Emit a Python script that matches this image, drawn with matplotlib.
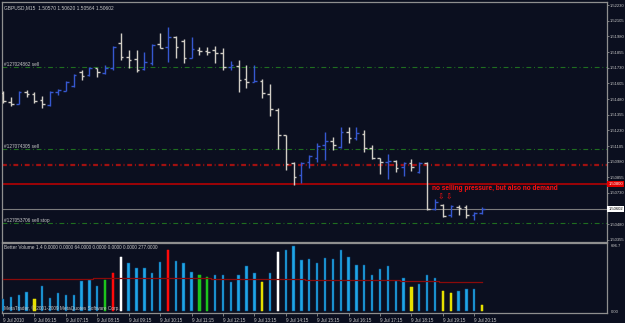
import matplotlib
matplotlib.use('Agg')
import matplotlib.pyplot as plt

plt.rcParams['font.family'] = ['Liberation Sans', 'DejaVu Sans']
plt.rcParams['lines.scale_dashes'] = False

# ---------------- data ----------------
chart_title = "GBPUSD,M15  1.50570 1.50620 1.50564 1.50602"

opens = [1.51528, 1.51456, 1.51440, 1.51536, 1.51520, 1.51472, 1.51432, 1.51536, 1.51544, 1.51584,
         1.51695, 1.51671, 1.51727, 1.51687, 1.51727, 1.51927, 1.51815, 1.51799, 1.51719, 1.51767,
         1.51919, 1.51895, 1.51975, 1.51943, 1.51807, 1.51871, 1.51863, 1.51871, 1.51847, 1.51735,
         1.51743, 1.51640, 1.51616, 1.51624, 1.51520, 1.51392, 1.51193, 1.50969, 1.50873, 1.50977,
         1.51009, 1.51113, 1.51145, 1.51097, 1.51217, 1.51169, 1.51201, 1.51089, 1.51009, 1.50977,
         1.50985, 1.50937, 1.50969, 1.50897, 1.50969, 1.50602, 1.50634, 1.50554, 1.50618, 1.50618,
         1.50554, 1.50570]
highs = [1.51544, 1.51496, 1.51544, 1.51552, 1.51536, 1.51504, 1.51544, 1.51560, 1.51624, 1.51679,
         1.51711, 1.51735, 1.51727, 1.51751, 1.51903, 1.52007, 1.51871, 1.51871, 1.51855, 1.51919,
         1.52007, 1.52054, 1.51983, 1.51959, 1.51975, 1.51895, 1.51895, 1.51903, 1.51887, 1.51783,
         1.51791, 1.51751, 1.51751, 1.51640, 1.51600, 1.51408, 1.51193, 1.50977, 1.50977, 1.51033,
         1.51129, 1.51217, 1.51177, 1.51256, 1.51256, 1.51256, 1.51233, 1.51113, 1.51009, 1.51041,
         1.50993, 1.50977, 1.51001, 1.50977, 1.50977, 1.50682, 1.50642, 1.50634, 1.50634, 1.50634,
         1.50578, 1.50620]
lows = [1.51448, 1.51424, 1.51440, 1.51496, 1.51448, 1.51408, 1.51424, 1.51512, 1.51544, 1.51576,
        1.51632, 1.51663, 1.51655, 1.51679, 1.51711, 1.51791, 1.51727, 1.51695, 1.51711, 1.51751,
        1.51887, 1.51775, 1.51807, 1.51767, 1.51807, 1.51831, 1.51831, 1.51767, 1.51711, 1.51711,
        1.51536, 1.51568, 1.51616, 1.51488, 1.51344, 1.51081, 1.50913, 1.50794, 1.50810, 1.50929,
        1.50977, 1.50993, 1.51073, 1.51089, 1.51129, 1.51153, 1.51057, 1.51001, 1.50881, 1.50841,
        1.50897, 1.50865, 1.50905, 1.50889, 1.50598, 1.50598, 1.50538, 1.50538, 1.50554, 1.50530,
        1.50514, 1.50564]
closes = [1.51464, 1.51440, 1.51536, 1.51520, 1.51464, 1.51440, 1.51536, 1.51552, 1.51616, 1.51671,
          1.51663, 1.51727, 1.51695, 1.51727, 1.51895, 1.51815, 1.51791, 1.51711, 1.51775, 1.51911,
          1.51887, 1.51975, 1.51895, 1.51807, 1.51879, 1.51863, 1.51855, 1.51847, 1.51735, 1.51751,
          1.51632, 1.51616, 1.51624, 1.51528, 1.51400, 1.51193, 1.50961, 1.50857, 1.50969, 1.51025,
          1.51105, 1.51145, 1.51113, 1.51217, 1.51169, 1.51209, 1.51089, 1.51009, 1.50977, 1.50985,
          1.50929, 1.50969, 1.50937, 1.50969, 1.50602, 1.50658, 1.50546, 1.50626, 1.50610, 1.50554,
          1.50570, 1.50602]

volumes = [127, 151, 169, 204, 127, 267, 141, 187, 176, 176,
           320, 334, 267, 334, 408, 581, 510, 457, 461, 408,
           521, 655, 528, 514, 415, 387, 362, 380, 387, 310,
           380, 475, 405, 310, 408, 626, 655, 690, 546, 556,
           510, 563, 556, 651, 581, 486, 493, 380, 443, 475,
           320, 352, 257, 285, 380, 352, 214, 187, 214, 232,
           232, 64]
volume_kind = ['n', 'n', 'n', 'n', 'y', 'n', 'n', 'n', 'n', 'n',
               'n', 'n', 'n', 'g', 'r', 'w', 'n', 'n', 'n', 'n',
               'n', 'r', 'n', 'n', 'n', 'g', 'g', 'n', 'n', 'n',
               'n', 'n', 'n', 'y', 'n', 'w', 'n', 'n', 'n', 'n',
               'n', 'n', 'n', 'n', 'n', 'n', 'n', 'n', 'n', 'n',
               'n', 'n', 'y', 'n', 'n', 'n', 'y', 'y', 'n', 'n',
               'n', 'y']
volume_avg = [340] * 12 + [352] * 15 + [345] * 12 + [335] * 12 + [320] * 5 + [306] * 6

time_labels = ["9 Jul 2010", "9 Jul 06:15", "9 Jul 07:15", "9 Jul 08:15", "9 Jul 09:15",
               "9 Jul 10:15", "9 Jul 11:15", "9 Jul 12:15", "9 Jul 13:15", "9 Jul 14:15",
               "9 Jul 15:15", "9 Jul 16:15", "9 Jul 17:15", "9 Jul 18:15", "9 Jul 19:15",
               "9 Jul 20:15"]
price_ticks = [1.52230, 1.52105, 1.51980, 1.51855, 1.51730, 1.51605, 1.51480, 1.51355,
               1.51230, 1.51105, 1.50980, 1.50855, 1.50730, 1.50480, 1.50355]

order_levels = [1.51735, 1.51081, 1.50490]
order_labels = ["#127024862 sell", "#127074305 sell", "#127053706 sell stop"]
red_dash_level = 1.50953
red_line_level = 1.50800
bid_level = 1.50602
annotation = "no selling pressure, but also no demand"
vol_title = "Better Volume 1.4 0.0000 0.0000 64.0000 0.0000 0.0000 0.0000 277.0000"
copyright_text = "MetaTrader, \u00a9 2001-2009 MetaQuotes Software Corp."
vol_max_label = "696.7"

# ---------------- style ----------------
BG = '#0b0f1f'
SPINE = '#8f8f8f'
TXT = '#c8c8c8'
BULL = '#3658d0'
BEAR = '#d2cec6'
kind_color = {'n': '#1fa6e6', 'y': '#e6e000', 'g': '#1cc41c', 'r': '#ff0a0a', 'w': '#ffffff'}
kind_edge = {'n': '#0b4f86', 'y': '#e6e000', 'g': '#1cc41c', 'r': '#ff0a0a', 'w': '#ffffff'}
AXIS_FS = 2.95

W, H = 625, 323
fig = plt.figure(figsize=(W / 100, H / 100), dpi=100, facecolor=BG)

ax = fig.add_axes([2 / W, (H - 242) / H, 605 / W, 240 / H], facecolor=BG)
axv = fig.add_axes([2 / W, (H - 313) / H, 605 / W, 70 / H], facecolor=BG, sharex=ax)

n = len(opens)
xs = list(range(n))
tick_w = 0.34

for i in xs:
    c = BULL if closes[i] > opens[i] else BEAR
    ax.vlines(i, lows[i], highs[i], color=c, lw=1.0, zorder=3)
    ax.hlines(opens[i], i - tick_w, i, color=c, lw=1.0, zorder=3)
    ax.hlines(closes[i], i, i + tick_w, color=c, lw=1.0, zorder=3)

ax.set_xlim(-0.127, 76.9)
ax.set_ylim(1.50339, 1.52254)

dashdot = (0, (3.5, 2.0, 0.7, 2.0))
for lvl, lab in zip(order_levels, order_labels):
    ax.axhline(lvl, color='#1f6e1f', lw=0.8, ls=dashdot, zorder=2)
    ax.text(0.003, lvl + 0.00003, lab, transform=ax.get_yaxis_transform(),
            color=TXT, fontsize=3.4, ha='left', va='bottom', zorder=5)
ax.axhline(red_dash_level, color='#a01010', lw=1.6, ls=dashdot, zorder=2)
ax.axhline(red_line_level, color='#c40000', lw=1.1, zorder=2)
ax.axhline(bid_level, color='#7c7c7c', lw=0.8, zorder=2)

ax.text(54.6, 1.50762, annotation, color='#ff1010', fontsize=4.7, fontweight='bold',
        ha='left', va='center', zorder=6)
for ax_x in (55.7, 56.7):
    ax.text(ax_x, 1.50697, '\u21e9', color='#ff1010', fontsize=5.5, ha='center', va='center',
            family=['DejaVu Sans'], zorder=6)

ax.text(0.003, 0.985, chart_title, transform=ax.transAxes, color=TXT, fontsize=3.5,
        ha='left', va='top', zorder=6)

ax.yaxis.tick_right()
ax.set_yticks(price_ticks)
ax.set_yticklabels([f"{p:.5f}" for p in price_ticks])
ax.tick_params(axis='y', colors=SPINE, labelcolor=TXT, labelsize=AXIS_FS, length=1.5, width=0.6, pad=0.6)
ax.tick_params(axis='x', bottom=False, labelbottom=False)

# price labels on the axis
ax.text(1.0025, red_line_level, f"{red_line_level:.5f}", transform=ax.get_yaxis_transform(),
        color='white', fontsize=AXIS_FS, ha='left', va='center', clip_on=False, zorder=10,
        bbox=dict(boxstyle='square,pad=0.3', fc='#e00000', ec='none'))
ax.text(1.0025, bid_level, f"{bid_level:.5f}", transform=ax.get_yaxis_transform(),
        color='black', fontsize=AXIS_FS, ha='left', va='center', clip_on=False, zorder=10,
        bbox=dict(boxstyle='square,pad=0.3', fc='white', ec='none'))

# ---------------- volume panel ----------------
axv.bar(xs, volumes, width=0.3, color=[kind_color[k] for k in volume_kind],
        edgecolor=[kind_edge[k] for k in volume_kind], linewidth=0.35, zorder=3)
axv.step(xs, volume_avg, where='mid', color='#8b0a0a', lw=0.9, zorder=4)
axv.set_ylim(-21, 725)
axv.yaxis.tick_right()
axv.set_yticks([0, 696.7])
axv.set_yticklabels(["0.00", vol_max_label])
axv.tick_params(axis='y', colors=SPINE, labelcolor=TXT, labelsize=AXIS_FS, length=0, pad=2.5)
axv.set_xticks(list(range(0, n, 4)))
axv.set_xticklabels(time_labels, ha='left')
axv.tick_params(axis='x', colors=SPINE, labelcolor=TXT, labelsize=3.3, length=2.5, width=0.6, pad=1)

axv.text(0.003, 0.97, vol_title, transform=axv.transAxes, color=TXT, fontsize=3.4,
         ha='left', va='top', zorder=6)
axv.text(0.003, 0.03, copyright_text, transform=axv.transAxes, color=TXT, fontsize=3.4,
         ha='left', va='bottom', zorder=6)

for a in (ax, axv):
    for s in a.spines.values():
        s.set_color(SPINE)
        s.set_linewidth(0.9)

fig.savefig('out.png', dpi=100, facecolor=BG)
